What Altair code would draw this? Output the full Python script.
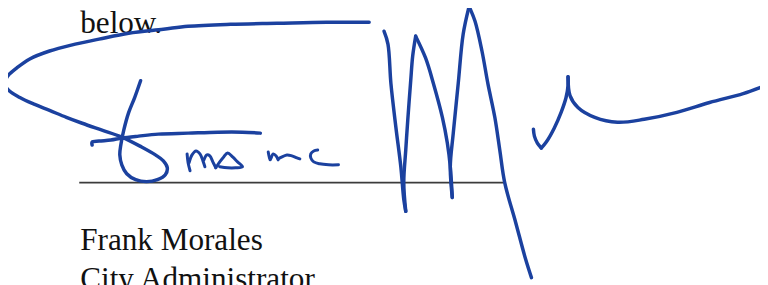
import altair as alt
import pandas as pd

# ---- text lines (x, baseline y in page pixels) ----
text_labels = ["below.", "Frank Morales", "City Administrator"]
text_x = [81, 81, 81]
text_y = [32, 251, 291]

# ---- signature line ----
rule_x = [80, 509]
rule_y = [183, 183]

# ---- signature strokes: main strokes (thick) ----
loop_x = [373, 330, 280, 233, 190, 165, 130, 100, 72, 50, 30, 17, 8, 5, 8, 20, 35, 50, 67, 83, 103, 123, 143, 157, 165, 169, 167, 159, 148, 137, 128, 123, 121, 122, 125, 130, 136, 142]
loop_y = [21, 21, 22, 23, 25, 28, 32, 38, 44, 50, 58, 67, 75, 82, 89, 97, 104, 110, 117, 123, 130, 137, 147, 155, 161, 168, 175, 180, 182, 180, 174, 165, 155, 145, 130, 112, 97, 80]

bar_x = [93, 93, 100, 112, 123, 140, 160, 190, 220, 245, 263]
bar_y = [145, 142, 141, 140, 138, 136, 134, 133, 132, 132, 133]

w1_x = [388, 392, 395, 400, 405, 408, 410]
w1_y = [30, 43, 83, 127, 167, 200, 212]
w2_x = [410, 408, 410, 412, 415, 417, 420]
w2_y = [212, 183, 150, 120, 80, 55, 35]
w3_x = [420, 430, 438, 447, 452, 455, 457]
w3_y = [35, 57, 83, 117, 143, 167, 198]
w4_x = [457, 455, 458, 463, 468, 474]
w4_y = [198, 167, 133, 83, 33, 5]
w5_x = [474, 480, 487, 493, 500, 505, 510, 521, 531, 537]
w5_y = [5, 20, 50, 83, 117, 150, 183, 223, 260, 279]

t1_x = [539, 540, 543, 547]
t1_y = [129, 136, 143, 148]
t2_x = [547, 552, 560, 567, 572, 574, 574]
t2_y = [148, 142, 128, 112, 97, 85, 76]
t3_x = [574, 576, 584, 601, 624, 651, 684, 717, 751, 768]
t3_y = [76, 95, 107, 117, 122, 119, 112, 102, 93, 87]

# ---- small letters (thinner) ----
m1_x = [189, 190, 192]
m1_y = [154, 163, 171]
m2_x = [191, 194, 198, 202, 205, 207]
m2_y = [163, 155, 151, 154, 161, 167]
m3_x = [206, 209, 212, 215, 218]
m3_y = [160, 155, 156, 162, 168]
a_x = [218, 222, 226, 230, 235, 240, 245, 238, 230, 222]
a_y = [168, 162, 157, 153, 157, 162, 167, 168, 168, 167]
i_x = [271, 272, 273, 276, 279, 281]
i_y = [152, 157, 160, 154, 156, 160]
tl_x = [281, 285, 290, 295, 300, 303]
tl_y = [159, 157, 155, 156, 158, 159]
c_x = [321, 317, 314, 314, 317, 323, 332, 342]
c_y = [150, 151, 154, 158, 162, 164, 165, 165]

INK = "#1b419f"


def strokes(pairs):
    rows = []
    for sid, (xs, ys) in enumerate(pairs):
        for k, (x, y) in enumerate(zip(xs, ys)):
            rows.append({"sid": sid, "k": k, "x": x, "y": y})
    return pd.DataFrame(rows)


main_df = strokes([(loop_x, loop_y), (bar_x, bar_y), (w1_x, w1_y), (w2_x, w2_y),
                   (w3_x, w3_y), (w4_x, w4_y), (w5_x, w5_y), (t1_x, t1_y),
                   (t2_x, t2_y), (t3_x, t3_y)])
small_df = strokes([(m1_x, m1_y), (m2_x, m2_y), (m3_x, m3_y), (a_x, a_y),
                    (i_x, i_y), (tl_x, tl_y), (c_x, c_y)])
rule_df = pd.DataFrame({"x": rule_x, "y": rule_y, "k": [0, 1]})
text_df = pd.DataFrame({"label": text_labels, "x": text_x, "y": text_y})

xs = alt.Scale(domain=[8, 768], nice=False, zero=False)
ys = alt.Scale(domain=[8, 285], nice=False, zero=False, reverse=True)
X = alt.X("x:Q", scale=xs, axis=None)
Y = alt.Y("y:Q", scale=ys, axis=None)

rule = alt.Chart(rule_df).mark_line(color="#3c3c3c", strokeWidth=1.6, clip=False).encode(
    x=X, y=Y, order="k:Q")

main = alt.Chart(main_df).mark_line(
    color=INK, strokeWidth=3.5, strokeCap="round", strokeJoin="round",
    interpolate="catmull-rom", clip=False
).encode(x=X, y=Y, detail="sid:N", order="k:Q")

small = alt.Chart(small_df).mark_line(
    color=INK, strokeWidth=3.0, strokeCap="round", strokeJoin="round",
    interpolate="catmull-rom", clip=False
).encode(x=X, y=Y, detail="sid:N", order="k:Q")

text = alt.Chart(text_df).mark_text(
    align="left", baseline="alphabetic", font="Liberation Serif",
    fontSize=31.5, color="#111111", clip=False
).encode(x=X, y=Y, text="label:N")

chart = alt.layer(rule, text, main, small).properties(
    width=760, height=277,
    autosize=alt.AutoSizeParams(type="none"),
    padding=0,
    background="white",
).configure_view(stroke=None)

chart.save("out.html", embed_options={"renderer": "svg", "actions": False})
